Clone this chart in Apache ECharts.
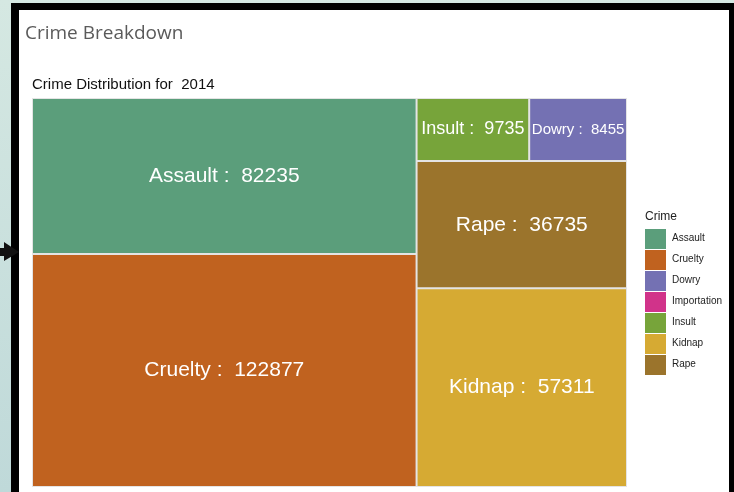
<!DOCTYPE html>
<html>
<head>
<meta charset="utf-8">
<script src="https://cdn.jsdelivr.net/npm/echarts@6/dist/echarts.min.js"></script>
<style>
  html, body { margin: 0; padding: 0; }
  body {
    width: 734px; height: 492px; overflow: hidden; position: relative;
    background: linear-gradient(#d5e8e2, #bfd9d9);
  }
  .frame { position: absolute; left: 11px; top: 3px; width: 723px; height: 489px; background: #000; }
  #chart { position: absolute; left: 19px; top: 10px; width: 710px; height: 482px; background: #fff; }
  .arrow { position: absolute; left: 0; top: 240px; }
</style>
</head>
<body>
<div class="frame"></div>
<div id="chart"></div>
<svg class="arrow" width="20" height="24"><polygon points="0,8 4,8 4,2 19,12 4,21 4,16 0,16" fill="#111"/></svg>
<script>
// legend order (alphabetical, as in the reference)
const crimes = ["Assault", "Cruelty", "Dowry", "Importation", "Insult", "Kidnap", "Rape"];
const counts = [82235, 122877, 8455, 0, 9735, 57311, 36735];
// order the tiles are laid out in
const tileOrder = ["Assault", "Cruelty", "Insult", "Dowry", "Rape", "Kidnap"];
const year = "2014";

const palette = {
  Assault: "#5b9e7b",
  Cruelty: "#c0621f",
  Dowry: "#7471b3",
  Importation: "#d1338a",
  Insult: "#77a43a",
  Kidnap: "#d6aa33",
  Rape: "#9b742c",
};
const labelSize = { Insult: 18, Dowry: 15 };

const chart = echarts.init(document.getElementById("chart"));

const tiles = tileOrder.map((name) => ({
  name,
  value: counts[crimes.indexOf(name)],
  itemStyle: { color: palette[name] },
  label: { fontSize: labelSize[name] || 21 },
}));

// hand-made legend, treemap has no legend of its own
const legendItems = [
  {
    type: "text",
    left: 626,
    top: 201,
    style: { text: "Crime", fontSize: 12, fill: "#222", fontFamily: "Liberation Sans, Arial" },
  },
];
crimes.forEach((name, i) => {
  legendItems.push({
    type: "rect",
    shape: { x: 626, y: 219 + i * 21, width: 21, height: 20 },
    style: { fill: palette[name] },
  });
  legendItems.push({
    type: "text",
    left: 653,
    top: 223 + i * 21,
    style: { text: name, fontSize: 10, fill: "#222", fontFamily: "Liberation Sans, Arial" },
  });
});

chart.setOption({
  animation: false,
  title: [
    {
      text: "Crime Breakdown",
      left: 1,
      top: 9,
      textStyle: { fontSize: 19, fontWeight: "normal", color: "#5a5a5a", fontFamily: "Open Sans" },
    },
    {
      text: "Crime Distribution for  " + year,
      left: 8,
      top: 62,
      textStyle: { fontSize: 15, fontWeight: "normal", color: "#111", fontFamily: "Liberation Sans, Arial" },
    },
  ],
  graphic: legendItems,
  series: [
    {
      type: "treemap",
      left: 13,
      top: 88,
      width: 595,
      height: 389,
      roam: false,
      nodeClick: false,
      sort: false,
      squareRatio: 1,
      breadcrumb: { show: false },
      label: {
        show: true,
        position: "inside",
        align: "center",
        verticalAlign: "middle",
        formatter: "{b} :  {c}",
        color: "#fff",
        fontFamily: "Liberation Sans, Arial",
        overflow: "none",
      },
      upperLabel: { show: false },
      itemStyle: { borderColor: "#e4e4e4", borderWidth: 1, gapWidth: 0 },
      levels: [
        { itemStyle: { borderWidth: 0, gapWidth: 0 } },
        { itemStyle: { borderColor: "#e4e4e4", borderWidth: 1, gapWidth: 0 } },
      ],
      emphasis: { disabled: true },
      data: tiles,
    },
  ],
});
</script>
</body>
</html>
